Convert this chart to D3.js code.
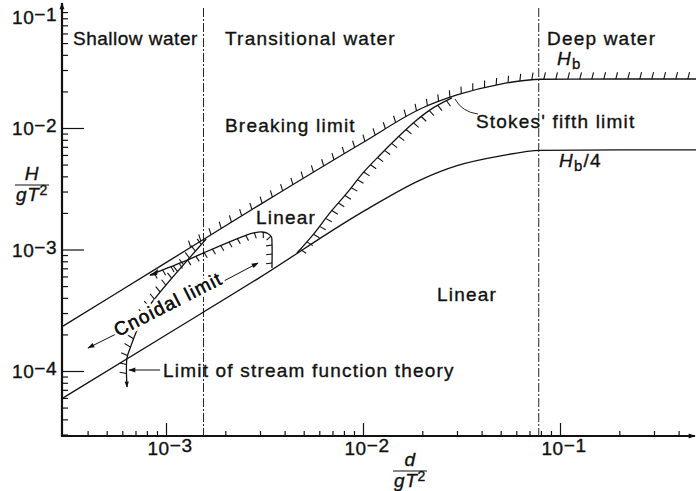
<!DOCTYPE html>
<html lang="en">
<head>
<script type="text/javascript" src="https://cdnjs.cloudflare.com/ajax/libs/d3/7.8.5/d3.min.js"></script>
<style>
body { margin: 0; background: #fff; }
svg text { font-family: "Liberation Sans", Arial, sans-serif; fill: #111; font-size: 19px; }
.lbl { letter-spacing: 0.6px; stroke: #111; stroke-width: 0.35px; }
.wide { letter-spacing: 1.2px; }
</style>
</head>
<body>
<div id="container"></div>
<script type="text/javascript">
    var w = 696;
    var h = 491;

    // d/gT^2 and H/gT^2 values
    var breakD   = [3e-4, 1e-3, 3e-3, 1e-2, 2e-2, 3e-2, 5e-2, 8e-2, 0.2, 0.5];
    var breakH   = [2.34e-4, 7.8e-4, 2.34e-3, 7.6e-3, 0.0146, 0.0187, 0.0230, 0.0252, 0.0253, 0.0253];
    var quarterH = [6.0e-5, 1.98e-4, 5.9e-4, 2.05e-3, 3.8e-3, 4.9e-3, 5.9e-3, 6.55e-3, 6.6e-3, 6.6e-3];
    var stokesD  = [4.62e-3, 5.57e-3, 6.79e-3, 8.3e-3, 1.0e-2, 1.22e-2, 1.49e-2, 1.8e-2, 2.19e-2, 2.83e-2];
    var stokesH  = [9.35e-4, 1.32e-3, 2.0e-3, 2.92e-3, 4.27e-3, 6.0e-3, 8.28e-3, 1.10e-2, 1.41e-2, 1.77e-2];
    var cnoidalD = [8.3e-4, 1.29e-3, 1.58e-3, 2.58e-3, 2.83e-3, 3.07e-3, 3.29e-3, 3.43e-3, 3.45e-3, 3.45e-3];
    var cnoidalH = [6.17e-4, 8.2e-4, 9.5e-4, 1.32e-3, 1.377e-3, 1.393e-3, 1.355e-3, 1.268e-3, 1.153e-3, 7.05e-4];
    var streamD  = [6.34e-4, 6.34e-4, 6.64e-4, 6.96e-4, 7.46e-4, 8.01e-4, 1.6e-3];
    var streamH  = [7.38e-5, 1.28e-4, 1.61e-4, 1.98e-4, 2.58e-4, 3.24e-4, 1.22e-3];
    var limitsD  = [1.55e-3, 0.078];   // shallow / deep water boundaries
    var xMajor = [1e-3, 1e-2, 1e-1];
    var xLabels = ["3", "2", "1"];
    var yMajor = [1e-4, 1e-3, 1e-2, 1e-1];
    var yLabels = ["4", "3", "2", "1"];

    var svg = d3.select("#container")
                .append("svg")
                .attr("width", w)
                .attr("height", h);

    var defs = svg.append("defs");
    defs.append("marker")
        .attr("id", "arr")
        .attr("viewBox", "0 0 10 10")
        .attr("refX", 9).attr("refY", 5)
        .attr("markerWidth", 9).attr("markerHeight", 7)
        .attr("markerUnits", "userSpaceOnUse")
        .attr("orient", "auto")
        .append("path").attr("d", "M0,1.5L10,5L0,8.5Z").attr("fill", "#111");
    defs.append("marker")
        .attr("id", "arrS")
        .attr("viewBox", "0 0 10 10")
        .attr("refX", 1).attr("refY", 5)
        .attr("markerWidth", 8).attr("markerHeight", 6)
        .attr("markerUnits", "userSpaceOnUse")
        .attr("orient", "auto")
        .append("path").attr("d", "M10,1.5L0,5L10,8.5Z").attr("fill", "#111");

    var x = d3.scaleLog().domain([1e-3, 1e-1]).range([166, 560]);
    var y = d3.scaleLog().domain([1e-4, 1e-2]).range([371, 128]);
    var x0 = 62, y0 = 436;

    function minors(lo, hi) {
        var out = [];
        for (var e = lo; e <= hi; e++)
            for (var m = 2; m <= 9; m++) out.push(m * Math.pow(10, e));
        return out;
    }

    // axes
    var yMinor = minors(-5, -2).filter(function(v) { return y(v) < y0 && y(v) > 8; });
    var xMinor = minors(-4, -1).filter(function(v) { return x(v) > x0 + 3 && x(v) < 690; });

    svg.append("g").attr("transform", "translate(" + x0 + ",0)")
        .call(d3.axisLeft(y).tickValues(yMinor).tickSize(-6).tickFormat(""))
        .call(function(g) { g.select(".domain").remove(); });
    svg.append("g").attr("transform", "translate(" + x0 + ",0)")
        .call(d3.axisLeft(y).tickValues(yMajor.slice(0, 3)).tickSize(-22).tickFormat(""))
        .call(function(g) { g.select(".domain").remove(); });
    svg.append("g").attr("transform", "translate(0," + y0 + ")")
        .call(d3.axisBottom(x).tickValues(xMinor).tickSize(-5).tickFormat(""))
        .call(function(g) { g.select(".domain").remove(); });
    svg.append("g").attr("transform", "translate(0," + y0 + ")")
        .call(d3.axisBottom(x).tickValues(xMajor).tickSize(-13).tickFormat(""))
        .call(function(g) { g.select(".domain").remove(); });
    svg.selectAll(".tick line").attr("stroke", "#111").attr("stroke-width", 1.2);

    svg.append("line").attr("x1", x0).attr("y1", y0 + 1).attr("x2", x0).attr("y2", 3)
        .attr("stroke", "#111").attr("stroke-width", 2.2).attr("marker-end", "url(#arr)");
    svg.append("line").attr("x1", x0 - 1).attr("y1", y0).attr("x2", 695).attr("y2", y0)
        .attr("stroke", "#111").attr("stroke-width", 1.8).attr("marker-end", "url(#arr)");

    var yl = svg.selectAll(".ylab").data(yMajor).enter().append("text")
        .attr("class", "lbl")
        .attr("x", 12)
        .attr("y", function(d) { return Math.max(y(d), 17) + 7; });
    yl.append("tspan").text("10");
    yl.append("tspan").attr("dy", -3).text(function(d, i) { return "\u2212" + yLabels[i]; });

    var xl = svg.selectAll(".xlab").data(xMajor).enter().append("text")
        .attr("class", "lbl")
        .attr("text-anchor", "middle")
        .attr("x", function(d) { return x(d) + 4; })
        .attr("y", 455);
    xl.append("tspan").text("10");
    xl.append("tspan").attr("dy", -3).text(function(d, i) { return "\u2212" + xLabels[i]; });

    // water depth limits
    svg.selectAll(".lim").data(limitsD).enter().append("line")
        .attr("x1", function(d) { return x(d); }).attr("x2", function(d) { return x(d); })
        .attr("y1", 8).attr("y2", y0)
        .attr("stroke", "#222").attr("stroke-width", 1)
        .attr("stroke-dasharray", "9,2,2,2");

    // curves
    var plot = svg.append("g");
    function pts(ds, hs) { return ds.map(function(d, i) { return [d, hs[i]]; }); }
    var smooth = d3.line().x(function(d) { return x(d[0]); }).y(function(d) { return y(d[1]); })
                   .curve(d3.curveMonotoneX);
    var bent = d3.line().x(function(d) { return x(d[0]); }).y(function(d) { return y(d[1]); })
                 .curve(d3.curveCatmullRom.alpha(0.5));

    function draw(gen, data) {
        return plot.append("path").attr("d", gen(data))
            .attr("fill", "none").attr("stroke", "#111").attr("stroke-width", 1.3);
    }

    // short hatch strokes along one side of a path
    function hatch(path, side, step, len, lean, keep) {
        var node = path.node(), L = node.getTotalLength();
        for (var s = step / 2; s < L; s += step) {
            var p = node.getPointAtLength(s);
            if (keep && !keep(p)) continue;
            var a = node.getPointAtLength(Math.max(0, s - 1.5)),
                b = node.getPointAtLength(Math.min(L, s + 1.5));
            var tx = b.x - a.x, ty = b.y - a.y, n = Math.hypot(tx, ty) || 1;
            tx /= n; ty /= n;
            var nx = side * ty, ny = -side * tx;
            var hx = nx * Math.cos(lean) + tx * Math.sin(lean),
                hy = ny * Math.cos(lean) + ty * Math.sin(lean);
            plot.append("line")
                .attr("x1", p.x).attr("y1", p.y)
                .attr("x2", p.x + hx * len).attr("y2", p.y + hy * len)
                .attr("stroke", "#111").attr("stroke-width", 1.1);
        }
    }

    var brk = draw(smooth, pts(breakD, breakH));
    hatch(brk, 1, 12, 7, 0.25, function(p) { return p.x > 190 && p.x < 694; });
    draw(smooth, pts(breakD, quarterH));
    var stk = draw(smooth, pts(stokesD, stokesH));
    hatch(stk, -1, 10, 7, 0.15);
    var cno = draw(bent, pts(cnoidalD, cnoidalH));
    hatch(cno, -1, 9, 6, 0.15);
    var str = draw(bent, pts(streamD, streamH)).attr("marker-start", "url(#arrS)");
    hatch(str, 1, 9, 7, 0.2, function(p) { return p.y < 376; });

    // arrowhead where the cnoidal limit meets the breaking limit
    plot.append("path")
        .attr("d", "M" + (x(cnoidalD[0]) - 1) + "," + (y(cnoidalH[0]) + 1) + "l9,-7l-1,6z")
        .attr("fill", "#111");

    // Stokes leader
    svg.append("path").attr("d", "M478,114Q462,112,455,99")
        .attr("fill", "none").attr("stroke", "#111").attr("stroke-width", 0.9);

    // arrows for annotations
    function arrow(x1, y1, x2, y2) {
        svg.append("line").attr("x1", x1).attr("y1", y1).attr("x2", x2).attr("y2", y2)
            .attr("stroke", "#111").attr("stroke-width", 1).attr("marker-end", "url(#arr)");
    }
    arrow(118, 333, 88, 348);
    arrow(222, 282, 258, 263);
    arrow(160, 370, 129, 370);

    // labels
    function label(t, px, py) {
        return svg.append("text").attr("class", "lbl wide").attr("x", px).attr("y", py).text(t);
    }
    label("Shallow water", 73, 45).style("letter-spacing", "0.5px");
    label("Transitional water", 225, 45);
    label("Deep water", 547, 45);
    label("Breaking limit", 225, 132);
    label("Stokes' fifth limit", 476, 128);
    label("Linear", 256, 224);
    label("Linear", 437, 301);
    label("Limit of stream function theory", 163, 377);

    svg.append("text").attr("class", "lbl wide")
        .attr("text-anchor", "middle")
        .attr("transform", "translate(171,310) rotate(-27)")
        .attr("paint-order", "stroke")
        .style("stroke", "#fff").style("stroke-width", "6px")
        .text("Cnoidal limit");
    svg.append("text").attr("class", "lbl wide")
        .attr("text-anchor", "middle")
        .attr("transform", "translate(171,310) rotate(-27)")
        .text("Cnoidal limit");

    var hb = label("", 557, 65);
    hb.append("tspan").style("font-style", "italic").text("H");
    hb.append("tspan").attr("dy", 4).style("font-size", "15px").text("b");
    var hb4 = label("", 559, 167);
    hb4.append("tspan").style("font-style", "italic").text("H");
    hb4.append("tspan").attr("dy", 4).style("font-size", "15px").text("b");
    hb4.append("tspan").attr("dy", -4).text("/4");

    // axis titles
    function fraction(cx, top, line, num) {
        svg.append("text").attr("class", "lbl").attr("text-anchor", "middle")
            .attr("x", cx).attr("y", top).style("font-style", "italic").text(num);
        svg.append("line").attr("x1", cx - 17).attr("x2", cx + 17).attr("y1", line).attr("y2", line)
            .attr("stroke", "#111").attr("stroke-width", 1.2);
        var den = svg.append("text").attr("class", "lbl").attr("text-anchor", "middle")
            .attr("x", cx).attr("y", line + 16).style("font-style", "italic");
        den.append("tspan").text("gT");
        den.append("tspan").attr("dy", -6).style("font-size", "14px").style("font-style", "normal").text("2");
    }
    fraction(32, 180, 185, "H");
    fraction(410, 466, 471, "d");
</script>
</body>
</html>
